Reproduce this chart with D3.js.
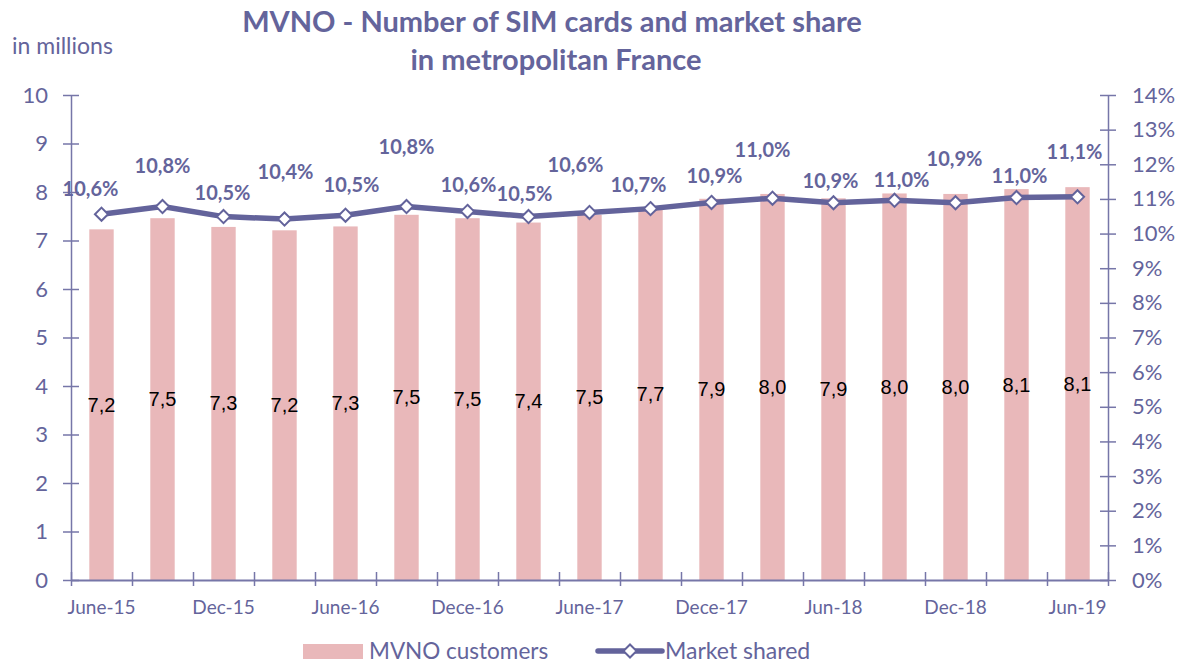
<!DOCTYPE html>
<html lang="en">
<head>
    <meta charset="UTF-8">
    <title>MVNO - Number of SIM cards and market share</title>
    <style>
        body, html {
            margin: 0;
            overflow: hidden;
            background: #fff;
        }
    </style>
</head>
<body>

<script src="https://d3js.org/d3.v7.min.js"></script>

<script>
    // Quarters, June 2015 to June 2019
    const categories = ["June-15", "Sep-15", "Dec-15", "Mar-16", "June-16", "Sep-16", "Dece-16", "Mar-17",
        "June-17", "Sep-17", "Dece-17", "Mar-18", "Jun-18", "Sep-18", "Dec-18", "Mar-19", "Jun-19"];

    // MVNO customers, in millions
    const customers = [7.23, 7.46, 7.28, 7.21, 7.29, 7.53, 7.46, 7.37, 7.53, 7.66, 7.86, 7.96, 7.87, 7.97, 7.96, 8.06, 8.10];

    // Market share, in %
    const marketShare = [10.56, 10.78, 10.49, 10.42, 10.53, 10.78, 10.64, 10.49, 10.61, 10.72, 10.90, 11.02, 10.89, 10.96, 10.89, 11.04, 11.06];

    const leftTicks = [0, 1, 2, 3, 4, 5, 6, 7, 8, 9, 10];
    const rightTicks = [0, 1, 2, 3, 4, 5, 6, 7, 8, 9, 10, 11, 12, 13, 14];

    // manual placement of the share labels (centre of text relative to the marker)
    const labelOffsets = [[-11, -25], [0, -41], [-1, -24], [1, -47], [6, -30], [0, -60], [1, -26], [-4, -23],
        [-14, -47], [-12, -24], [3, -26], [-10, -48], [-3, -22], [7, -20], [-1, -44], [3, -22], [-3, -45]];

    const width = 1179, height = 663;
    const margin = {top: 95, right: 71, bottom: 83, left: 71};
    const purple = "#64649b";
    const axisColor = "#7676a8";

    const svg = d3.create("svg")
        .attr("width", width)
        .attr("height", height)
        .attr("viewBox", [0, 0, width, height])
        .attr("font-family", "Lato, 'Open Sans', sans-serif");

    const x = d3.scaleBand()
        .domain(categories)
        .range([margin.left, width - margin.right])
        .paddingInner(0.6)
        .paddingOuter(0.3);

    const xEdge = d3.scaleLinear()
        .domain([0, categories.length])
        .range([margin.left, width - margin.right]);

    const y = d3.scaleLinear()
        .domain([0, 10])
        .range([height - margin.bottom, margin.top]);

    const y2 = d3.scaleLinear()
        .domain([0, 14])
        .range([height - margin.bottom, margin.top]);

    const cx = d => x(d) + x.bandwidth() / 2;

    // Title
    const title = svg.append("text")
        .attr("text-anchor", "middle")
        .attr("font-weight", "bold")
        .attr("font-size", 29)
        .attr("fill", purple);
    title.append("tspan").attr("x", 552).attr("y", 32).text("MVNO - Number of SIM cards and market share");
    title.append("tspan").attr("x", 556).attr("y", 70).text("in metropolitan France");

    svg.append("text")
        .attr("x", 12)
        .attr("y", 54)
        .attr("font-size", 23)
        .attr("fill", purple)
        .text("in millions");

    // Bars
    svg.append("g")
        .selectAll("rect")
        .data(customers)
        .join("rect")
        .attr("x", (d, i) => x(categories[i]))
        .attr("y", d => y(d))
        .attr("width", x.bandwidth())
        .attr("height", d => y(0) - y(d))
        .attr("fill", "#e9b8ba");

    // Left axis
    const leftAxis = svg.append("g")
        .attr("transform", `translate(${margin.left},0)`)
        .call(d3.axisLeft(y).tickValues(leftTicks).tickSizeInner(8).tickSizeOuter(0).tickPadding(15));
    leftAxis.selectAll(".tick line").attr("x1", 8);

    // Right axis
    const rightAxis = svg.append("g")
        .attr("transform", `translate(${width - margin.right},0)`)
        .call(d3.axisRight(y2).tickValues(rightTicks).tickFormat(d => d + "%")
            .tickSizeInner(8).tickSizeOuter(0).tickPadding(16));
    rightAxis.selectAll(".tick line").attr("x1", -8);

    // Bottom axis: ticks on category edges, labels every other quarter
    const bottomAxis = svg.append("g")
        .attr("transform", `translate(0,${y(0)})`)
        .call(d3.axisBottom(xEdge).tickValues(d3.range(categories.length + 1))
            .tickFormat("").tickSizeInner(6).tickSizeOuter(0));
    bottomAxis.selectAll(".tick line").attr("y1", -8);

    svg.append("g")
        .selectAll("text")
        .data(categories.filter((d, i) => i % 2 === 0))
        .join("text")
        .attr("x", d => cx(d))
        .attr("y", y(0) + 34)
        .attr("text-anchor", "middle")
        .attr("font-size", 19)
        .attr("fill", purple)
        .text(d => d);

    [leftAxis, rightAxis, bottomAxis].forEach(g => {
        g.selectAll("path, line").attr("stroke", axisColor).attr("stroke-width", 1.5);
        g.attr("font-family", null);
        g.selectAll("text").attr("fill", purple).attr("font-size", 22);
    });
    bottomAxis.select(".domain").attr("stroke-width", 2);

    // Bar value labels, centred in the bar
    const fmt = d3.format(".1f");
    svg.append("g")
        .selectAll("text")
        .data(customers)
        .join("text")
        .attr("x", (d, i) => cx(categories[i]))
        .attr("y", d => y(d / 2))
        .attr("dy", "0.35em")
        .attr("text-anchor", "middle")
        .attr("font-family", "'Liberation Sans', Arial, sans-serif")
        .attr("font-size", 20)
        .attr("fill", "#000")
        .text(d => fmt(d).replace(".", ","));

    // Market share line
    const line = d3.line()
        .x((d, i) => cx(categories[i]))
        .y(d => y2(d));

    svg.append("path")
        .datum(marketShare)
        .attr("fill", "none")
        .attr("stroke", "#63639b")
        .attr("stroke-width", 5.5)
        .attr("stroke-linejoin", "round")
        .attr("d", line);

    const diamond = d3.symbol().type(d3.symbolDiamond2).size(110);

    svg.append("g")
        .selectAll("path")
        .data(marketShare)
        .join("path")
        .attr("transform", (d, i) => `translate(${cx(categories[i])},${y2(d)})`)
        .attr("d", diamond)
        .attr("fill", "#fff")
        .attr("stroke", "#63639b")
        .attr("stroke-width", 2);

    svg.append("g")
        .selectAll("text")
        .data(marketShare)
        .join("text")
        .attr("x", (d, i) => cx(categories[i]) + labelOffsets[i][0])
        .attr("y", (d, i) => y2(d) + labelOffsets[i][1])
        .attr("dy", "0.35em")
        .attr("text-anchor", "middle")
        .attr("font-weight", "bold")
        .attr("font-size", 20)
        .attr("fill", purple)
        .text(d => fmt(d).replace(".", ",") + "%");

    // Legend
    const legend = svg.append("g").attr("transform", "translate(0,651)");
    legend.append("rect")
        .attr("x", 303).attr("y", -7)
        .attr("width", 60).attr("height", 15)
        .attr("fill", "#e9b8ba");
    legend.append("text")
        .attr("x", 369).attr("dy", "0.35em")
        .attr("font-size", 22.5).attr("fill", purple)
        .text("MVNO customers");
    legend.append("line")
        .attr("x1", 598).attr("x2", 662)
        .attr("stroke", "#63639b").attr("stroke-width", 5.5)
        .attr("stroke-linecap", "round");
    legend.append("path")
        .attr("transform", "translate(630,0)")
        .attr("d", diamond)
        .attr("fill", "#fff")
        .attr("stroke", "#63639b")
        .attr("stroke-width", 2);
    legend.append("text")
        .attr("x", 665).attr("dy", "0.35em")
        .attr("font-size", 23).attr("fill", purple)
        .text("Market shared");

    document.body.appendChild(svg.node());
</script>

</body>
</html>
